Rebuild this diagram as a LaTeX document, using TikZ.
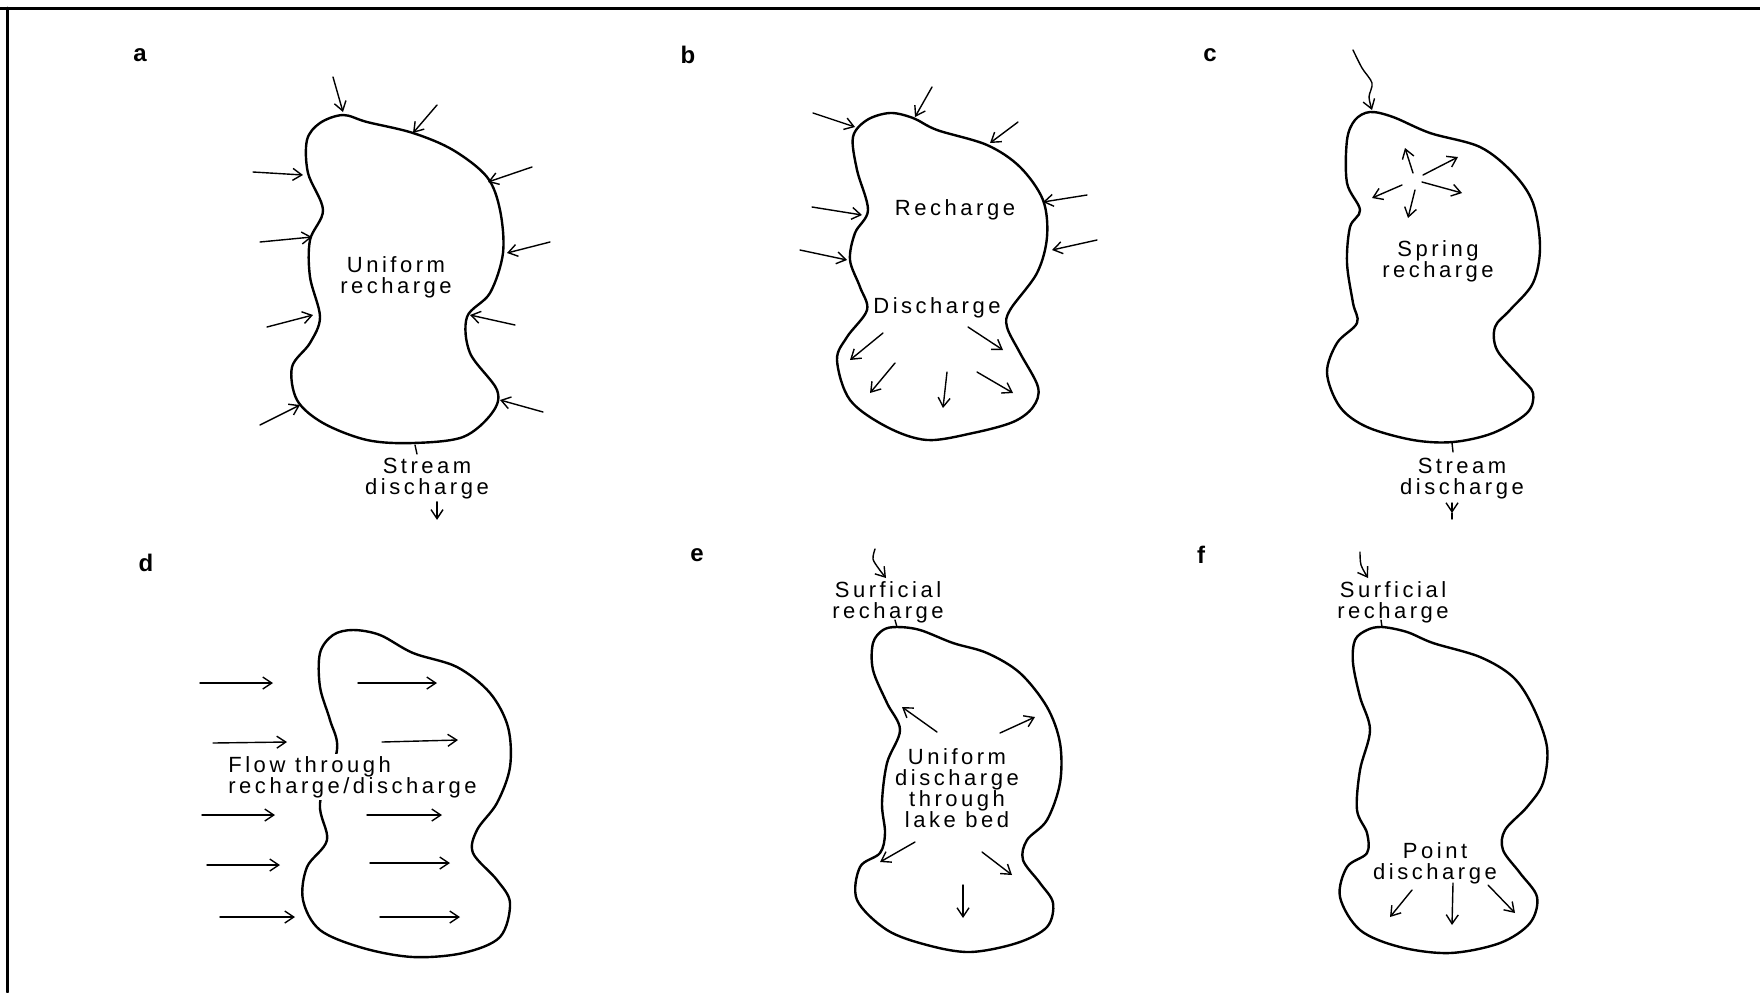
\documentclass[tikz,border=0pt]{standalone}
\usepackage{fontspec}
\newfontfamily\lakefont{Liberation Sans}[LetterSpace=16]
\newfontfamily\panelfont{Liberation Sans}
\usetikzlibrary{arrows.meta}

\begin{document}
\begin{tikzpicture}[
     x = 0.5pt,
     y = -0.5pt,
     >={Straight Barb[length=4.5pt,width=6pt]},
     line cap = round
    ]
    \tikzstyle{lake}=[line width=1.2pt, line join=round]
    \tikzstyle{flow}=[->, line width=0.7pt]
    \tikzstyle{tick}=[line width=0.7pt]
    \tikzstyle{txt}=[font=\lakefont\fontsize{11}{10.5}\selectfont, align=center, inner sep=1pt]
    \tikzstyle{panel}=[font=\panelfont\bfseries\fontsize{12}{14}\selectfont, inner sep=0pt]

    \useasboundingbox (0,0) rectangle (1760,992);
    \draw[line width=1.5pt] (0,8) -- (1760,8);
    \draw[line width=1.5pt] (7,8) -- (7,992);

    \node[panel] (pa) at (140,55) {a};
    \node[panel] (pb) at (688,55) {b};
    \node[panel] (pc) at (1210,55) {c};
    \node[panel] (pd) at (146,563) {d};
    \node[panel] (pe) at (697,555) {e};
    \node[panel] (pf) at (1201,555) {f};

    % a
    \draw[lake] plot[smooth cycle, tension=0.55] coordinates {
      (343,115) (367,122) (413,133) (453,150) (487,177) (500,210) (503,253)
      (490,293) (467,317) (470,353) (497,390) (492,413) (463,437) (413,443)
      (367,440) (323,423) (297,400) (292,367) (310,343) (320,317) (310,277)
      (310,240) (323,210) (308,173) (307,140) (320,123)};
    \foreach \xa/\ya/\xb/\yb in {333/77/343/112, 437/105/413/133, 253/172/303/175,
      532/167/488/182, 260/242/312/237, 550/242/507/253, 267/327/313/315,
      515/325/470/315, 260/425/300/405, 543/412/500/400}
      \draw[flow] (\xa,\ya) -- (\xb,\yb);
    \node[txt] (uniforma) at (396,277) {Uniform\\recharge};
    \draw[tick] (415,445) -- (417,454);
    \node[txt] (streama) at (427,479) {Stream\\discharge};
    \draw[flow] ([xshift=5pt]streama.south) -- ++(0,18);

    % b
    \draw[lake] plot[smooth cycle, tension=0.55] coordinates {
      (890,113) (913,118) (937,130) (987,145) (1020,167) (1043,200) (1047,237)
      (1037,273) (1010,310) (1007,327) (1020,353) (1038,387) (1033,407)
      (1013,422) (973,433) (927,440) (887,427) (850,400) (837,360) (847,337)
      (867,310) (860,287) (850,260) (855,233) (868,210) (857,170) (853,137)
      (867,120)};
    \foreach \xa/\ya/\xb/\yb in {813/113/855/127, 932/87/915/117, 1018/122/990/143,
      812/207/862/215, 1087/195/1043/202, 800/250/847/260, 1097/240/1052/250,
      883/333/850/360, 968/327/1003/350, 895/363/870/393, 947/372/943/408,
      977/372/1013/393}
      \draw[flow] (\xa,\ya) -- (\xb,\yb);
    \node[txt] (rechb) at (955,210) {Recharge};
    \node[txt] (dischb) at (937,308) {Discharge};

    % c
    \draw[lake] plot[smooth cycle, tension=0.55] coordinates {
      (1370,112) (1393,117) (1430,133) (1480,147) (1513,173) (1533,203)
      (1540,247) (1533,283) (1510,310) (1495,327) (1497,350) (1520,377)
      (1533,393) (1527,413) (1493,433) (1453,442) (1413,440) (1367,427)
      (1340,407) (1327,373) (1337,343) (1357,323) (1353,303) (1347,263)
      (1350,227) (1360,210) (1347,183) (1347,140) (1355,120)};
    \draw[flow] plot[smooth] coordinates {(1353,50) (1362,68) (1372,83) (1369,97) (1372,110)};
    \foreach \xa/\ya/\xb/\yb in {1413/173/1405/148, 1423/175/1458/157,
      1422/182/1462/193, 1415/190/1408/218, 1402/185/1372/198}
      \draw[flow] (\xa,\ya) -- (\xb,\yb);
    \node[txt] (springc) at (1438,261) {Spring\\recharge};
    \draw[tick] (1452,443) -- (1453,452);
    \node[txt] (streamc) at (1462,479) {Stream\\discharge};
    \coordinate (ytip) at (1452,513);
    \draw[flow] (1452,503) -- (ytip);
    \draw[tick] (ytip) -- ++(0,6);

    % d
    \draw[lake] plot[smooth cycle, tension=0.55] coordinates {
      (353,630) (380,635) (413,653) (457,667) (490,693) (508,727) (510,767)
      (497,803) (477,830) (473,853) (497,880) (510,903) (500,937) (463,953)
      (413,957) (363,948) (320,930) (303,900) (307,867) (327,840) (320,803)
      (337,750) (330,720) (320,687) (320,653) (333,635)};
    \foreach \xa/\ya/\xb/\yb in {200/683/273/683, 213/743/287/742, 202/815/275/815,
      207/865/280/865, 220/917/295/917, 358/683/437/683, 382/742/458/740,
      367/815/442/815, 370/863/450/863, 380/917/460/917}
      \draw[flow] (\xa,\ya) -- (\xb,\yb);
    \node[txt, align=left, anchor=west, fill=white] (flowd) at (226,777) {Flow through\\recharge/discharge};

    % e
    \draw[lake] plot[smooth cycle, tension=0.55] coordinates {
      (897,627) (920,630) (953,643) (987,653) (1020,673) (1047,707) (1060,743)
      (1060,783) (1047,820) (1027,840) (1023,860) (1040,883) (1053,903)
      (1047,927) (1017,943) (970,952) (927,945) (887,930) (857,900) (860,867)
      (880,853) (885,833) (882,803) (887,763) (900,730) (887,703) (873,670)
      (873,643) (883,630)};
    \draw[flow] plot[smooth] coordinates {(875,549) (873,559) (879,569) (886,578)};
    \node[txt] (surfe) at (888,602) {Surficial\\recharge};
    \draw[tick] (895,620) -- (897,627);
    \foreach \xa/\ya/\xb/\yb in {937/732/902/707, 1000/733/1035/717,
      915/842/880/862, 982/852/1012/875, 963/885/963/918}
      \draw[flow] (\xa,\ya) -- (\xb,\yb);
    \node[txt] (uniforme) at (957,788) {Uniform\\discharge\\through\\lake bed};

    % f
    \draw[lake] plot[smooth cycle, tension=0.55] coordinates {
      (1382,627) (1407,632) (1433,643) (1480,657) (1513,677) (1533,707)
      (1547,747) (1543,783) (1527,807) (1505,830) (1503,850) (1520,873)
      (1537,897) (1530,923) (1500,943) (1450,953) (1400,947) (1360,930)
      (1340,897) (1347,867) (1367,853) (1367,833) (1357,810) (1360,770)
      (1370,730) (1360,697) (1353,663) (1355,640) (1367,630)};
    \draw[flow] plot[smooth] coordinates {(1360,552) (1361,565) (1368,578)};
    \node[txt] (surff) at (1393,602) {Surficial\\recharge};
    \draw[tick] (1381,620) -- (1382,627);
    \node[txt] (pointf) at (1435,863) {Point\\discharge};
    \foreach \xa/\ya/\xb/\yb in {1412/890/1390/917, 1453/883/1452/925, 1488/885/1515/913}
      \draw[flow] (\xa,\ya) -- (\xb,\yb);
\end{tikzpicture}
\end{document}
